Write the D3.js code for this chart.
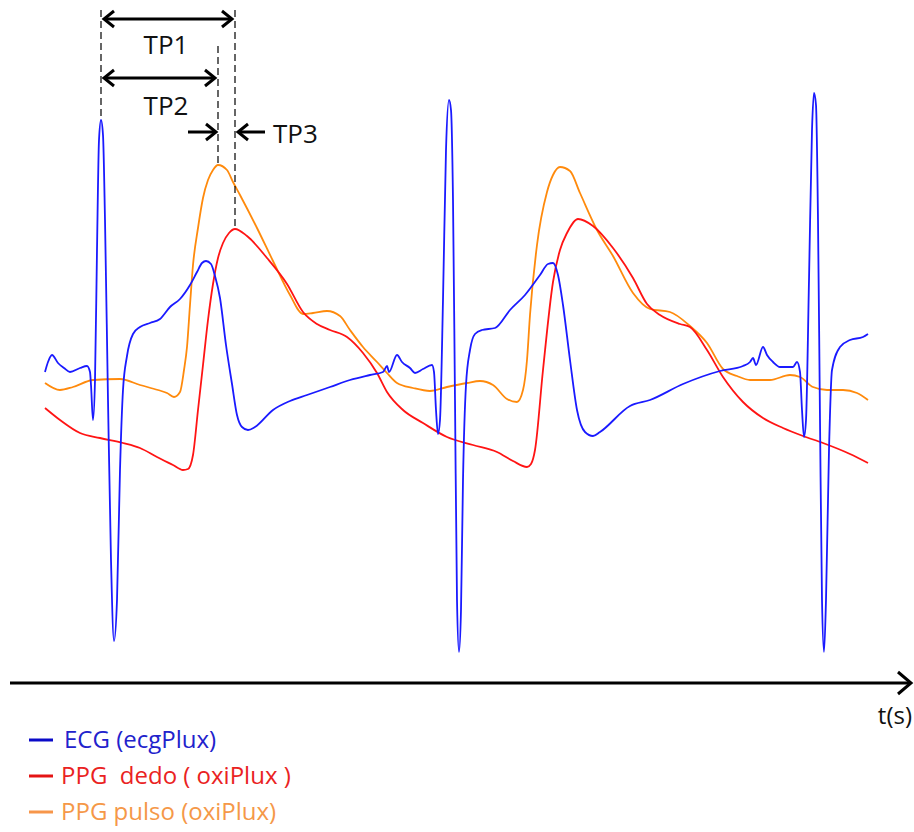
<!DOCTYPE html>
<html>
<head>
<meta charset="utf-8">
<script src="https://cdn.jsdelivr.net/npm/d3@7"></script>
<style>
  body { margin: 0; background: #fff; }
  svg { display: block; }
</style>
</head>
<body>
<div id="chart"></div>
<script>
// Signals as [sample, amplitude] (arbitrary units)
var ecg = [[0,311],[3,321],[7,328],[13,320],[19,315],[25,311],[35,315],[42,317],[45,311],[46,298],[48,263],
  [50,303],[52,433],[54,543],[56,563],[58,548],[60,463],[63,283],[66,123],[69,42],[72,83],[75,213],[78,293],
  [82,327],[88,349],[95,356],[105,360],[115,364],[125,376],[135,384],[145,398],[152,411],[157,420],[161,422],
  [166,419],[170,407],[175,385],[181,338],[187,299],[192,268],[197,256],[203,253],[210,256],[228,273],
  [245,282],[262,288],[285,296],[305,303],[325,308],[338,311],[342,317],[344,311],[352,328],[357,321],
  [365,315],[370,310],[378,314],[387,318],[389,311],[391,273],[393,249],[395,263],[398,383],[401,533],
  [404,583],[406,573],[408,483],[410,283],[412,83],[414,31],[416,73],[418,203],[421,298],[425,333],
  [430,349],[437,353],[450,355],[465,373],[480,388],[495,408],[503,419],[508,420],[513,408],[518,378],
  [525,323],[532,273],[540,251],[548,247],[555,251],[585,277],[605,283],[638,299],[675,312],[698,317],
  [705,321],[708,325],[711,318],[718,336],[722,328],[728,321],[735,316],[748,316],[752,321],[755,311],
  [757,273],[759,246],[761,263],[764,403],[767,553],[769,590],[771,578],[773,463],[775,263],[777,83],
  [779,31],[781,83],[784,233],[787,313],[795,336],[805,343],[818,346],[823,349]];

var ppgDedo = [[0,275],[15,263],[35,250],[55,245],[78,240],[95,235],[112,226],[128,218],[138,213],[143,214],
  [148,228],[153,273],[158,318],[163,363],[168,399],[173,425],[178,440],[184,450],[190,454],[202,447],
  [222,425],[242,399],[258,371],[272,359],[285,353],[302,346],[318,330],[332,310],[342,291],[358,273],
  [378,260],[402,246],[428,238],[452,231],[468,222],[482,216],[486,219],[490,233],[498,313],[508,401],
  [515,433],[522,450],[533,464],[548,457],[568,435],[588,405],[602,379],[615,368],[635,359],[645,356],
  [662,333],[678,306],[698,281],[718,265],[738,255],[758,247],[778,240],[805,229],[823,220]];

var ppgPulso = [[0,300],[15,293],[28,296],[48,303],[75,304],[95,298],[113,293],[122,290],[129,286],[135,291],
  [139,313],[142,336],[145,378],[148,418],[153,455],[158,485],[163,503],[168,513],[173,518],[182,513],
  [188,501],[195,488],[212,455],[228,422],[245,388],[258,369],[268,370],[282,372],[295,367],[305,353],
  [318,336],[332,321],[342,310],[352,300],[368,295],[385,292],[402,296],[422,300],[435,302],[448,298],
  [462,284],[472,281],[478,293],[482,323],[485,368],[492,438],[502,491],[508,508],[515,516],[525,512],
  [535,490],[552,453],[568,427],[588,390],[605,374],[625,371],[645,357],[662,340],[678,314],[692,307],
  [705,303],[725,303],[745,308],[755,306],[768,296],[782,293],[798,293],[812,290],[823,283]];

var legendLabels = ["ECG (ecgPlux)", "PPG  dedo ( oxiPlux )", "PPG pulso (oxiPlux)"];
var intervalLabels = ["TP1", "TP2", "TP3"];
var axisLabel = "t(s)";

var W = 914, H = 832;
var svg = d3.select("#chart").append("svg")
    .attr("width", W)
    .attr("height", H);

var x = d3.scaleLinear().domain([0, 823]).range([45, 868]);
var y = d3.scaleLinear().domain([0, 683]).range([683, 0]);

var line = d3.line()
    .x(d => x(d[0]))
    .y(d => y(d[1]))
    .curve(d3.curveMonotoneX);

var series = [
  {data: ppgPulso, color: "#ff8a0c"},
  {data: ppgDedo, color: "#ff1414"},
  {data: ecg, color: "#1a1aff"}
];

svg.selectAll("path.trace")
    .data(series)
    .enter()
    .append("path")
    .attr("class", "trace")
    .attr("d", d => line(d.data))
    .attr("fill", "none")
    .attr("stroke", d => d.color)
    .attr("stroke-width", 1.8)
    .attr("stroke-linejoin", "round");

// time axis with arrow
var axisY = y(0);
svg.append("line")
    .attr("x1", 10).attr("x2", 911)
    .attr("y1", axisY).attr("y2", axisY)
    .attr("stroke", "#000")
    .attr("stroke-width", 3);
svg.append("path")
    .attr("d", "M898," + (axisY - 11) + "L911," + axisY + "L898," + (axisY + 11))
    .attr("fill", "none")
    .attr("stroke", "#000")
    .attr("stroke-width", 3);
svg.append("text")
    .attr("x", 912).attr("y", axisY + 41)
    .attr("text-anchor", "end")
    .style("font-family", "'Open Sans', sans-serif")
    .style("font-size", "24px")
    .attr("fill", "#111")
    .text(axisLabel);

// peaks of the first beat, used for the interval markers
function peak(data, maxN) {
  return data.filter(d => d[0] < maxN).reduce((a, b) => b[1] > a[1] ? b : a);
}
var rPeak = peak(ecg, 150), pulsoPeak = peak(ppgPulso, 250), dedoPeak = peak(ppgDedo, 250);
var xR = x(rPeak[0]), xP = x(pulsoPeak[0]), xD = x(dedoPeak[0]);

var dashed = [
  {x: xR, y1: 10, y2: y(rPeak[1])},
  {x: xP, y1: 46, y2: y(pulsoPeak[1])},
  {x: xD, y1: 10, y2: y(dedoPeak[1])}
];
svg.selectAll("line.guide")
    .data(dashed)
    .enter()
    .append("line")
    .attr("class", "guide")
    .attr("x1", d => d.x).attr("x2", d => d.x)
    .attr("y1", d => d.y1).attr("y2", d => d.y2)
    .attr("stroke", "#000")
    .attr("stroke-width", 1.2)
    .attr("stroke-dasharray", "7,4");

function arrowHead(xt, yt, dir) {
  // dir = 1 points right, -1 points left
  return "M" + (xt - dir * 10) + "," + (yt - 8) + "L" + xt + "," + yt + "L" + (xt - dir * 10) + "," + (yt + 8);
}
function arrow(x1, x2, yy, heads) {
  var g = svg.append("g")
      .attr("fill", "none")
      .attr("stroke", "#000")
      .attr("stroke-width", 3);
  g.append("line").attr("x1", x1).attr("x2", x2).attr("y1", yy).attr("y2", yy);
  if (heads.indexOf("left") >= 0) g.append("path").attr("d", arrowHead(x1, yy, -1));
  if (heads.indexOf("right") >= 0) g.append("path").attr("d", arrowHead(x2, yy, 1));
}
arrow(xR + 3, xD - 3, 19, ["left", "right"]);
arrow(xR + 3, xP - 3, 78, ["left", "right"]);
arrow(xP - 30, xP - 2, 132, ["right"]);
arrow(xD + 3, xD + 30, 132, ["left"]);

var labelStyle = sel => sel
    .style("font-family", "'Open Sans', sans-serif")
    .style("font-size", "26px")
    .attr("fill", "#111");
svg.append("text").attr("x", (xR + xD) / 2 - 2).attr("y", 54).attr("text-anchor", "middle")
    .text(intervalLabels[0]).call(labelStyle);
svg.append("text").attr("x", (xR + xD) / 2 - 2).attr("y", 115).attr("text-anchor", "middle")
    .text(intervalLabels[1]).call(labelStyle);
svg.append("text").attr("x", xD + 38).attr("y", 143).attr("text-anchor", "start")
    .text(intervalLabels[2]).call(labelStyle);

// legend
var legendColors = [
  {line: "#0a0ac8", text: "#2222cc"},
  {line: "#e41414", text: "#ea2222"},
  {line: "#f7964a", text: "#f59848"}
];
var legend = svg.selectAll("g.legend")
    .data(legendLabels)
    .enter()
    .append("g")
    .attr("class", "legend")
    .attr("transform", (d, i) => "translate(0," + (740 + i * 36) + ")");
legend.append("line")
    .attr("x1", 29).attr("x2", 53)
    .attr("y1", 0).attr("y2", 0)
    .attr("stroke", (d, i) => legendColors[i].line)
    .attr("stroke-width", 3);
legend.append("text")
    .attr("x", (d, i) => i === 0 ? 64 : 61)
    .attr("y", 8)
    .style("font-family", "'Open Sans', sans-serif")
    .style("font-size", "24px")
    .attr("fill", (d, i) => legendColors[i].text)
    .style("white-space", "pre")
    .attr("xml:space", "preserve")
    .text(d => d);
</script>
</body>
</html>
